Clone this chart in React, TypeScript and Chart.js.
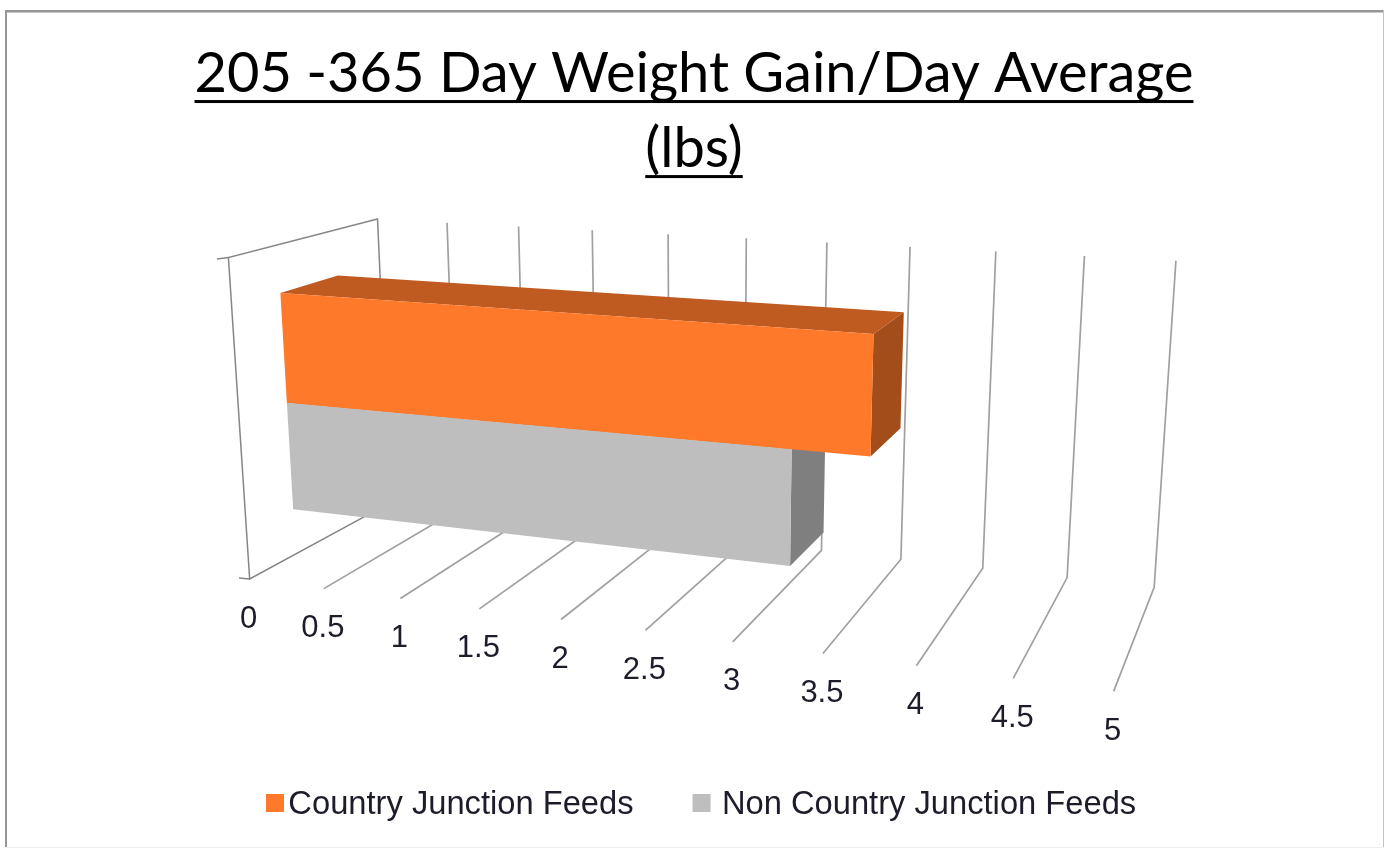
import React, { useEffect, useRef } from "react";
import { Chart, registerables } from "chart.js";

Chart.register(...registerables);

const categories = ["205-365 Day"];
const seriesNames = ["Country Junction Feeds", "Non Country Junction Feeds"];
const countryJunction = [3.6];
const nonCountryJunction = [3.16];
const tickLabels = ["0", "0.5", "1", "1.5", "2", "2.5", "3", "3.5", "4", "4.5", "5"];
const titleLines = ["205 -365 Day Weight Gain/Day Average", "(lbs)"];

const frontColors = ["#FF792B", "#BEBEBE"];
const topColors = ["#BF5A20", "#8F8F8F"];
const sideColors = ["#A34D1B", "#7F7F7F"];

// Where the 3D box of the plot sits on the page: [value, depth, height] -> [px, py]
const calibration: number[][] = [
  [0, 1, 1, 378, 219], [0.5, 1, 1, 447, 222], [3, 1, 1, 827, 242], [3.5, 1, 1, 910, 247],
  [4, 1, 1, 996, 251], [4.5, 1, 1, 1084, 256], [5, 1, 1, 1176, 261],
  [3, 1, 0, 822, 550], [3.5, 1, 0, 901, 560], [4, 1, 0, 982, 569], [4.5, 1, 0, 1067, 578], [5, 1, 0, 1154, 587],
  [0, 0, 0, 250, 578], [0.5, 0, 0, 323, 589], [1, 0, 0, 400, 599], [1.5, 0, 0, 480, 609], [2, 0, 0, 561, 619],
  [3.5, 0, 0, 823, 653], [4, 0, 0, 917, 665], [4.5, 0, 0, 1013, 678], [5, 0, 0, 1114, 692],
  [0, 0, 1, 228, 259],
];
const BAR_DEPTH_FRONT = 0.3;
const BAR_DEPTH_BACK = 0.69;
const SWATCH_OFFSETS = [22, 29];

function solveProjection(rows: number[][]): number[] {
  const n = 11;
  const A = Array.from({ length: n }, () => new Array(n + 1).fill(0));
  const add = (r: number[], b: number) => {
    for (let i = 0; i < n; i++) {
      for (let j = 0; j < n; j++) A[i][j] += r[i] * r[j];
      A[i][n] += r[i] * b;
    }
  };
  for (const [X, Y, Z, px, py] of rows) {
    const u = px / 1000;
    const w = py / 1000;
    add([X, Y, Z, 1, 0, 0, 0, 0, -u * X, -u * Y, -u * Z], u);
    add([0, 0, 0, 0, X, Y, Z, 1, -w * X, -w * Y, -w * Z], w);
  }
  for (let c = 0; c < n; c++) {
    let best = c;
    for (let r = c + 1; r < n; r++) if (Math.abs(A[r][c]) > Math.abs(A[best][c])) best = r;
    [A[c], A[best]] = [A[best], A[c]];
    for (let r = 0; r < n; r++) {
      if (r === c || Math.abs(A[c][c]) < 1e-14) continue;
      const f = A[r][c] / A[c][c];
      for (let k = c; k <= n; k++) A[r][k] -= f * A[c][k];
    }
  }
  return A.map((row, i) => (Math.abs(row[i]) < 1e-14 ? 0 : row[n] / row[i]));
}

const P = solveProjection(calibration);
const project = (v: number, d: number, h: number): [number, number] => {
  const q = P[8] * v + P[9] * d + P[10] * h + 1;
  return [
    (1000 * (P[0] * v + P[1] * d + P[2] * h + P[3])) / q,
    (1000 * (P[4] * v + P[5] * d + P[6] * h + P[7])) / q,
  ];
};

const poly = (ctx: CanvasRenderingContext2D, pts: [number, number][], fill: string) => {
  ctx.beginPath();
  pts.forEach((p, i) => (i ? ctx.lineTo(p[0], p[1]) : ctx.moveTo(p[0], p[1])));
  ctx.closePath();
  ctx.fillStyle = fill;
  ctx.fill();
};

const line = (ctx: CanvasRenderingContext2D, pts: [number, number][], color: string, width: number) => {
  ctx.beginPath();
  pts.forEach((p, i) => (i ? ctx.lineTo(p[0], p[1]) : ctx.moveTo(p[0], p[1])));
  ctx.strokeStyle = color;
  ctx.lineWidth = width;
  ctx.stroke();
};

const box3d = {
  id: "box3d",
  afterLayout(chart: any) {
    const lg = chart.legend;
    const pad = lg.options.labels.padding;
    const w = lg.right - lg.left;
    lg.left = 266 - pad;
    lg.right = lg.left + w;
    const h = lg.bottom - lg.top;
    lg.top = 789 - pad;
    lg.bottom = lg.top + h;
    const t = chart.titleBlock;
    t.left += 2;
    t.right += 2;
  },
  beforeDraw(chart: any) {
    const ctx: CanvasRenderingContext2D = chart.ctx;
    ctx.save();
    ctx.fillStyle = "#ffffff";
    ctx.fillRect(0, 0, chart.width, chart.height);
    ctx.fillStyle = "#959595";
    ctx.fillRect(5, 10, 2, chart.height - 10);
    ctx.fillRect(5, 10, chart.width - 5, 2.5);
    ctx.fillStyle = "#c4c4c4";
    ctx.fillRect(chart.width - 1, 10, 1, chart.height - 10);
    ctx.fillStyle = "#eeeeee";
    ctx.fillRect(5, chart.height - 1, chart.width - 5, 1);
    ctx.restore();
  },
  beforeDatasetsDraw(chart: any) {
    const ctx: CanvasRenderingContext2D = chart.ctx;
    const xs = chart.scales.x;
    const ys = chart.scales.y;
    const heightOf = (py: number) => (ys.bottom - py) / (ys.bottom - ys.top);
    ctx.save();
    ctx.lineJoin = "miter";

    // walls and floor
    const grid = "#a0a0a0";
    const frame = "#868686";
    line(ctx, [project(0, 1, 0), project(0, 1, 1), project(0, 0, 1), project(0, 0, 0), project(0, 1, 0)], frame, 1.5);
    line(ctx, [[217, 259], project(0, 0, 1)], frame, 1.5);
    line(ctx, [[239, 578], project(0, 0, 0)], frame, 1.5);
    xs.ticks.forEach((t: any) => {
      if (t.value === 0) return;
      line(ctx, [project(t.value, 1, 1), project(t.value, 1, 0), project(t.value, 0, 0)], grid, 1.7);
    });

    // tick labels
    ctx.font = "31px 'Liberation Sans'";
    ctx.fillStyle = "#1c1c2a";
    ctx.textAlign = "center";
    ctx.textBaseline = "middle";
    xs.ticks.forEach((t: any) => {
      const p = project(t.value, 0, 0);
      ctx.fillText(String(t.label), p[0] - 1, p[1] + 40);
    });

    // bars, back one first
    [1, 0].forEach((i) => {
      const el = chart.getDatasetMeta(i).data[0];
      const v0 = xs.getValueForPixel(el.base);
      const v1 = xs.getValueForPixel(el.x);
      const hTop = heightOf(el.y - el.height / 2);
      const hBot = heightOf(el.y + el.height / 2);
      const d0 = BAR_DEPTH_FRONT;
      const d1 = BAR_DEPTH_BACK;
      poly(ctx, [project(v1, d0, hBot), project(v1, d1, hBot), project(v1, d1, hTop), project(v1, d0, hTop)], sideColors[i]);
      poly(ctx, [project(v0, d0, hTop), project(v0, d1, hTop), project(v1, d1, hTop), project(v1, d0, hTop)], topColors[i]);
      poly(ctx, [project(v0, d0, hBot), project(v1, d0, hBot), project(v1, d0, hTop), project(v0, d0, hTop)], frontColors[i]);
    });
    ctx.restore();
    return false;
  },
  afterDraw(chart: any) {
    const ctx: CanvasRenderingContext2D = chart.ctx;
    ctx.save();
    // title underline
    const t = chart.titleBlock;
    const font = t.options.font;
    ctx.font = `${font.size}px ${font.family}`;
    const cx = (t.left + t.right) / 2;
    ctx.fillStyle = "#000000";
    const lh = font.size * font.lineHeight;
    const top = t.top + t.options.padding.top;
    titleLines.forEach((s, i) => {
      const w = ctx.measureText(s).width;
      ctx.fillRect(cx - w / 2, top + lh * (i + 1) - 11, w, 3);
    });
    // legend swatches
    const lg = chart.legend;
    const pad = lg.options.labels.padding;
    const hit = lg.legendHitBoxes;
    let x = lg.left + pad;
    lg.legendItems.forEach((_: any, i: number) => {
      ctx.fillStyle = frontColors[i];
      ctx.fillRect(x + 22 - SWATCH_OFFSETS[i], 794, 18, 18);
      x += hit[i].width + pad;
    });
    ctx.restore();
  },
};

export default function App() {
  const ref = useRef<HTMLCanvasElement>(null);
  useEffect(() => {
    const chart = new Chart(ref.current!, {
      type: "bar",
      plugins: [box3d],
      data: {
        labels: categories,
        datasets: [
          { label: seriesNames[0], data: countryJunction, backgroundColor: frontColors[0], categoryPercentage: 0.7, barPercentage: 1 },
          { label: seriesNames[1], data: nonCountryJunction, backgroundColor: frontColors[1], categoryPercentage: 0.7, barPercentage: 1 },
        ],
      },
      options: {
        indexAxis: "y",
        animation: false,
        responsive: false,
        layout: { padding: 0 },
        scales: {
          x: {
            display: false,
            type: "linear",
            min: 0,
            max: 5,
            ticks: { stepSize: 0.5, callback: (_v: any, i: number) => tickLabels[i] },
          },
          y: { display: false, type: "category" },
        },
        plugins: {
          tooltip: { enabled: false },
          title: {
            display: true,
            text: titleLines,
            color: "#000000",
            padding: { top: 36, bottom: 10 },
            font: { family: "Lato", size: 56, weight: "normal", lineHeight: 1.34 },
          },
          legend: {
            display: true,
            position: "bottom",
            align: "start",
            labels: {
              color: "#1c1c2a",
              font: { family: "'Liberation Sans'", size: 32.7 },
              boxWidth: 6,
              boxHeight: 18,
              padding: 66,
              generateLabels: (c: any) =>
                c.data.datasets.map((ds: any, i: number) => ({
                  text: ds.label,
                  fillStyle: "rgba(0,0,0,0)",
                  strokeStyle: "rgba(0,0,0,0)",
                  lineWidth: 0,
                  datasetIndex: i,
                  fontColor: "#1c1c2a",
                })),
            },
          },
        },
      },
    } as any);
    return () => chart.destroy();
  }, []);
  return (
    <div style={{ position: "fixed", left: 0, top: 0, width: 1384, height: 848 }}>
      <canvas ref={ref} width={1384} height={848} style={{ display: "block", filter: "blur(0.5px)" }} />
    </div>
  );
}
